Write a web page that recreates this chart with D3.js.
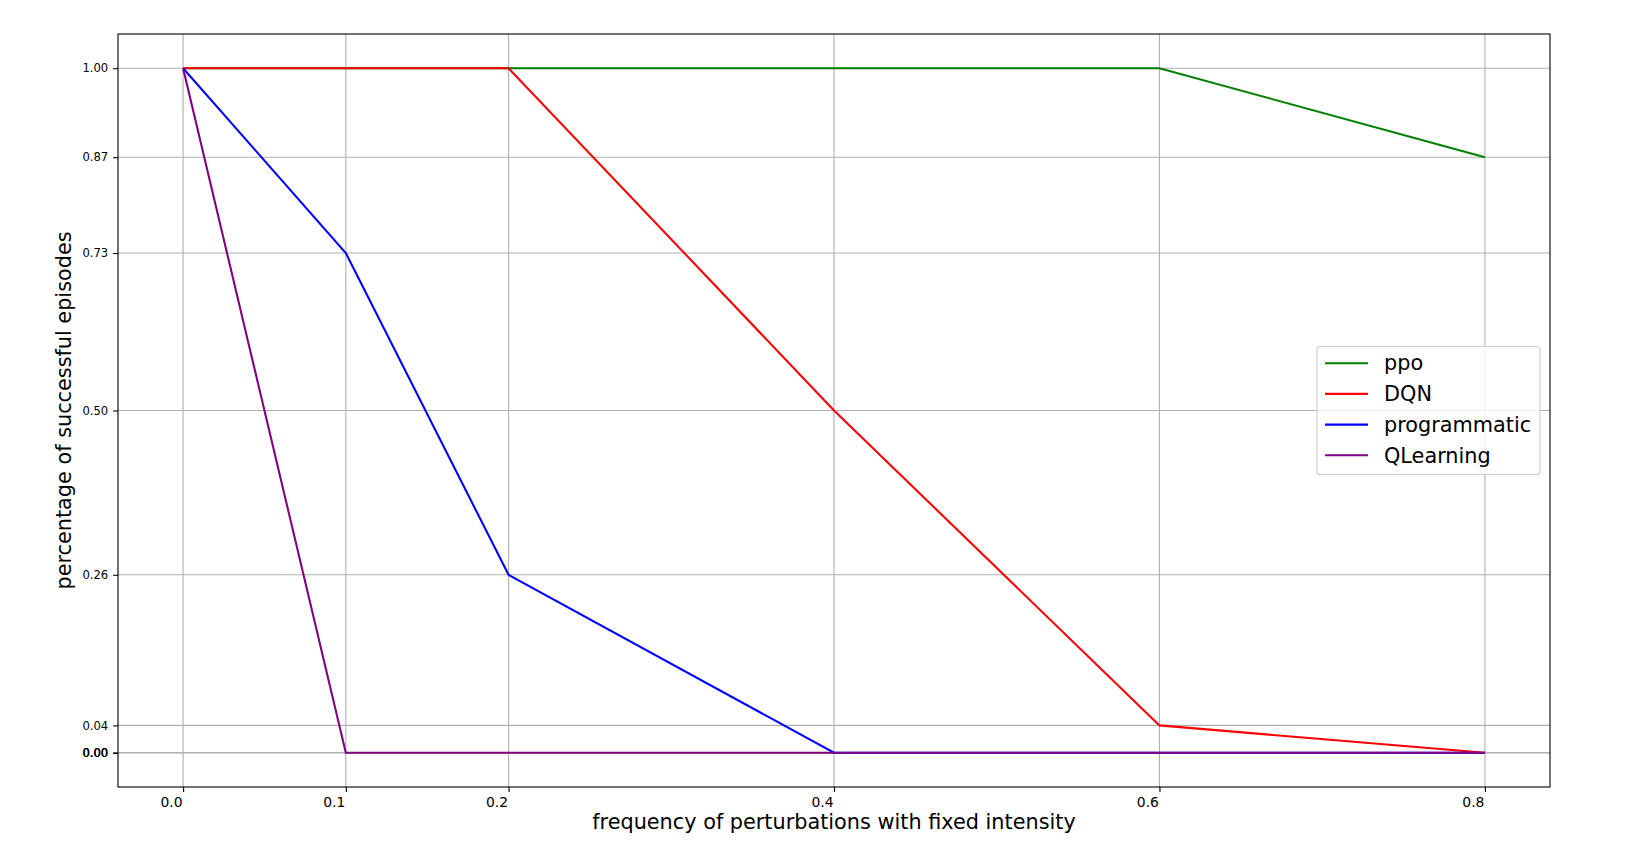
<!DOCTYPE html>
<html>
<head>
<meta charset="utf-8">
<script src="https://cdn.jsdelivr.net/npm/d3@7"></script>
<style>
  body { margin: 0; background: #fff; }
  svg { font-family: "DejaVu Sans", sans-serif; }
  .grid line { stroke: #b0b0b0; stroke-width: 1.1; }
  .axis path, .axis line { stroke: #000; stroke-width: 1.1; }
  .axis-x text { font-size: 13.9px; font-family: "DejaVu Sans", sans-serif; fill: #000; }
  .axis-y text { font-size: 11.6px; font-family: "DejaVu Sans", sans-serif; fill: #000; }
</style>
</head>
<body>
<div id="chart"></div>
<script>
// data
var freqs = [0.0, 0.1, 0.2, 0.4, 0.6, 0.8];
var ppo = [1.00, 1.00, 1.00, 1.00, 1.00, 0.87];
var dqn = [1.00, 1.00, 1.00, 0.50, 0.04, 0.00];
var programmatic = [1.00, 0.73, 0.26, 0.00, 0.00, 0.00];
var qlearning = [1.00, 0.00, 0.00, 0.00, 0.00, 0.00];
var seriesNames = ['ppo', 'DQN', 'programmatic', 'QLearning'];
var seriesColors = ['#008000', '#ff0000', '#0000ff', '#800080'];
var xTicks = [0.0, 0.1, 0.2, 0.4, 0.6, 0.8];
var yTicks = [1.00, 0.87, 0.73, 0.50, 0.26, 0.04, 0.00, 0.00, 0.00];

var W = 1629, H = 864;
var m = {t:34, r:79, b:77, l:118};
var w = W - m.l - m.r,
    h = H - m.t - m.b;

var series = [ppo, dqn, programmatic, qlearning].map(function(vals, i){
  return {name: seriesNames[i], color: seriesColors[i],
    values: vals.map(function(v, j){ return {x: freqs[j], y: v}; })};
});

var svg = d3.select('#chart').append('svg')
    .attr('width', W).attr('height', H);
var plot = svg.append('g').attr('transform', 'translate(' + m.l + ',' + m.t + ')');

//Scales (matplotlib style 5% margins)
var scaleX = d3.scaleLinear().domain([-0.04, 0.84]).range([0, w]);
var scaleY = d3.scaleLinear().domain([-0.05, 1.05]).range([h, 0]);

//Grid
plot.append('g').attr('class', 'grid')
  .selectAll('line').data(xTicks).enter().append('line')
  .attr('x1', function(d){ return scaleX(d); }).attr('x2', function(d){ return scaleX(d); })
  .attr('y1', 0).attr('y2', h);
plot.append('g').attr('class', 'grid')
  .selectAll('line').data(yTicks).enter().append('line')
  .attr('y1', function(d){ return scaleY(d); }).attr('y2', function(d){ return scaleY(d); })
  .attr('x1', 0).attr('x2', w);

//Lines
var line = d3.line().x(function(d){ return scaleX(d.x); }).y(function(d){ return scaleY(d.y); });
plot.selectAll('.series').data(series).enter().append('path')
  .attr('class', 'series')
  .attr('d', function(d){ return line(d.values); })
  .style('fill', 'none')
  .style('stroke', function(d){ return d.color; })
  .style('stroke-width', 2.08);

//Axes
var axisX = d3.axisBottom(scaleX).tickValues(xTicks).tickFormat(d3.format('.1f'))
    .tickSize(4.9).tickPadding(4.9).tickSizeOuter(0);
var axisY = d3.axisLeft(scaleY).tickValues(yTicks).tickFormat(d3.format('.2f'))
    .tickSize(4.9).tickPadding(4.9).tickSizeOuter(0);
var gx = plot.append('g').attr('class', 'axis axis-x').attr('transform', 'translate(0,' + h + ')').call(axisX);
gx.select('.domain').remove();
// x tick labels sit right-aligned against their tick
gx.selectAll('text').attr('text-anchor', 'end').attr('x', -1);
var gy = plot.append('g').attr('class', 'axis axis-y').call(axisY);
gy.select('.domain').remove();

//Frame
plot.append('rect').attr('width', w).attr('height', h)
  .style('fill', 'none').style('stroke', '#000').style('stroke-width', 1.1);

//Axis labels
svg.append('text')
  .attr('x', m.l + w / 2).attr('y', 829)
  .attr('text-anchor', 'middle')
  .style('font-size', '20.8px')
  .text('frequency of perturbations with fixed intensity');
svg.append('text')
  .attr('transform', 'translate(71,' + (m.t + h / 2) + ') rotate(-90)')
  .attr('text-anchor', 'middle')
  .style('font-size', '20.8px')
  .text('percentage of successful episodes');

//Legend
var lg = plot.append('g').attr('transform', 'translate(' + (w - 233) + ',' + (h / 2 - 64) + ')');
lg.append('rect').attr('width', 223).attr('height', 128).attr('rx', 3)
  .style('fill', '#fff').style('fill-opacity', 0.8)
  .style('stroke', '#cccccc').style('stroke-width', 1.1);
var items = lg.selectAll('.item').data(series).enter().append('g')
  .attr('transform', function(d, i){ return 'translate(0,' + (16.7 + i * 30.7) + ')'; });
items.append('line').attr('x1', 8).attr('x2', 51)
  .style('stroke', function(d){ return d.color; }).style('stroke-width', 2.08);
items.append('text').attr('x', 67).attr('dy', '0.35em')
  .style('font-size', '20.8px')
  .text(function(d){ return d.name; });
</script>
</body>
</html>
